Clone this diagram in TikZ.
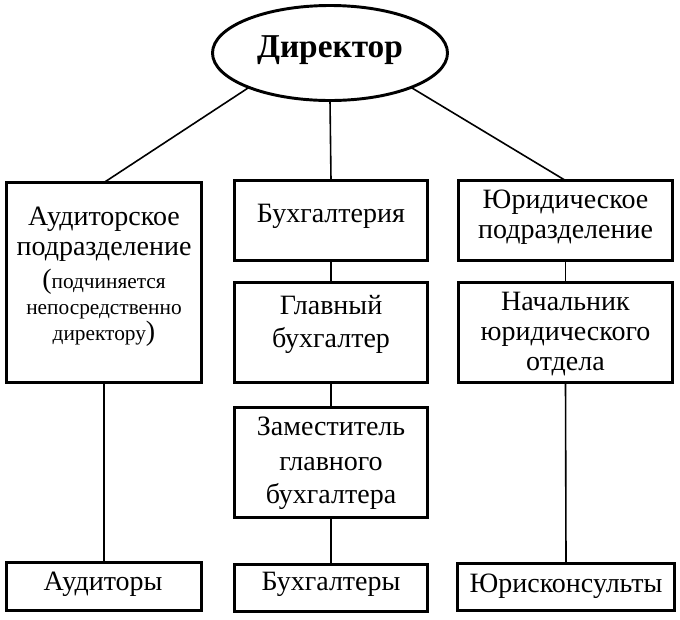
\documentclass[tikz,border=0pt]{standalone}
\usepackage{fontspec}
\setmainfont{Liberation Serif}
\usetikzlibrary{shapes.geometric}
\begin{document}
\begin{tikzpicture}[x=0.75pt,y=-0.75pt,
  box/.style={draw,line width=2.2pt,rectangle,inner sep=0pt,outer sep=0pt},
  conn/.style={line width=1.2pt},
  big/.style={font=\fontsize{21}{25}\selectfont,anchor=base,inner sep=0pt},
  small/.style={font=\fontsize{16}{19}\selectfont,anchor=base,inner sep=0pt}]
\useasboundingbox (0,0) rectangle (680,619);
% director
\node[ellipse,draw,line width=2.2pt,minimum width=176.25pt,minimum height=71.25pt,inner sep=0pt,outer sep=0pt] (dir) at (330,53) {};
\node[font=\fontsize{25}{29}\selectfont\bfseries,anchor=base,inner sep=0pt] (dirt) at (330,57) {Директор};
% boxes
\node[box,minimum width=146.25pt,minimum height=150pt] (aud) at (104,282.5) {};
\node[box,minimum width=144.75pt,minimum height=60pt] (buh) at (331,220.5) {};
\node[box,minimum width=144.75pt,minimum height=75pt] (glav) at (331,332.5) {};
\node[box,minimum width=144.75pt,minimum height=82.5pt] (zam) at (331,462.5) {};
\node[box,minimum width=144.75pt,minimum height=35.25pt] (buhs) at (331,588) {};
\node[box,minimum width=146.25pt,minimum height=36pt] (auds) at (104,586.5) {};
\node[box,minimum width=160.5pt,minimum height=60pt] (jur) at (565.5,220.5) {};
\node[box,minimum width=160.5pt,minimum height=75pt] (nach) at (565.5,332.5) {};
\node[box,minimum width=162.75pt,minimum height=35.25pt] (jurs) at (566,587) {};
% texts
\node[big] (aud1) at (104,225) {Аудиторское};
\node[big] (aud2) at (104,255) {подразделение};
\node[small] (aud3) at (104,288) {{\fontsize{21}{25}\selectfont(}подчиняется};
\node[small] (aud4) at (104,314) {непосредственно};
\node[small] (aud5) at (104,340) {директору{\fontsize{21}{25}\selectfont)}};
\node[big] (buh1) at (331,222) {Бухгалтерия};
\node[big] (glav1) at (331,314) {Главный};
\node[big] (glav2) at (331,347) {бухгалтер};
\node[big] (zam1) at (331,435) {Заместитель};
\node[big] (zam2) at (331,470) {главного};
\node[big] (zam3) at (331,503) {бухгалтера};
\node[big] (buhs1) at (331,590) {Бухгалтеры};
\node[big] (auds1) at (103,590) {Аудиторы};
\node[big] (jur1) at (565.5,208) {Юридическое};
\node[big] (jur2) at (565.5,238) {подразделение};
\node[big] (nach1) at (565.5,310) {Начальник};
\node[big] (nach2) at (565.5,340) {юридического};
\node[big] (nach3) at (565.5,370) {отдела};
\node[big] (jurs1) at (566,592) {Юрисконсульты};
% connectors
\draw[conn] (dir.203) -- (aud.north);
\draw[conn] (dir.south) -- (buh.north);
\draw[conn] (dir.337) -- (jur.north);
\draw[conn] (aud.south) -- (auds.north);
\draw[conn] (buh.south) -- (glav.north);
\draw[conn] (glav.south) -- (zam.north);
\draw[conn] (zam.south) -- (buhs.north);
\draw[conn] (jur.south) -- (nach.north);
\draw[conn] (nach.south) -- (jurs.north);
\end{tikzpicture}
\end{document}
